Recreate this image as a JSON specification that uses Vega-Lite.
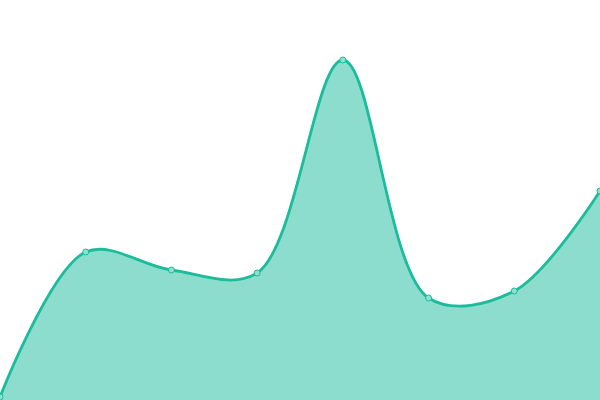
{
  "$schema": "https://vega.github.io/schema/vega-lite/v6.json",
  "width": 600,
  "height": 400,
  "padding": 0,
  "autosize": {"type": "none"},
  "config": {"view": {"stroke": null}},
  "data": {
    "values": [
      {"i": 0, "v": 3},
      {"i": 1, "v": 148},
      {"i": 2, "v": 130},
      {"i": 3, "v": 127},
      {"i": 4, "v": 340},
      {"i": 5, "v": 102},
      {"i": 6, "v": 109},
      {"i": 7, "v": 209}
    ]
  },
  "encoding": {
    "x": {"field": "i", "type": "quantitative", "axis": null, "scale": {"domain": [0, 7], "nice": false, "zero": false}},
    "y": {"field": "v", "type": "quantitative", "axis": null, "scale": {"domain": [0, 400], "nice": false}}
  },
  "layer": [
    {
      "mark": {
        "type": "area",
        "interpolate": "catmull-rom",
        "fill": "#1abc9c",
        "fillOpacity": 0.5,
        "line": {"stroke": "#1abc9c", "strokeWidth": 2.8}
      }
    },
    {
      "mark": {
        "type": "point",
        "filled": true,
        "size": 36,
        "fill": "#8ee0d0",
        "opacity": 1,
        "stroke": "#1abc9c",
        "strokeWidth": 1
      }
    }
  ]
}
